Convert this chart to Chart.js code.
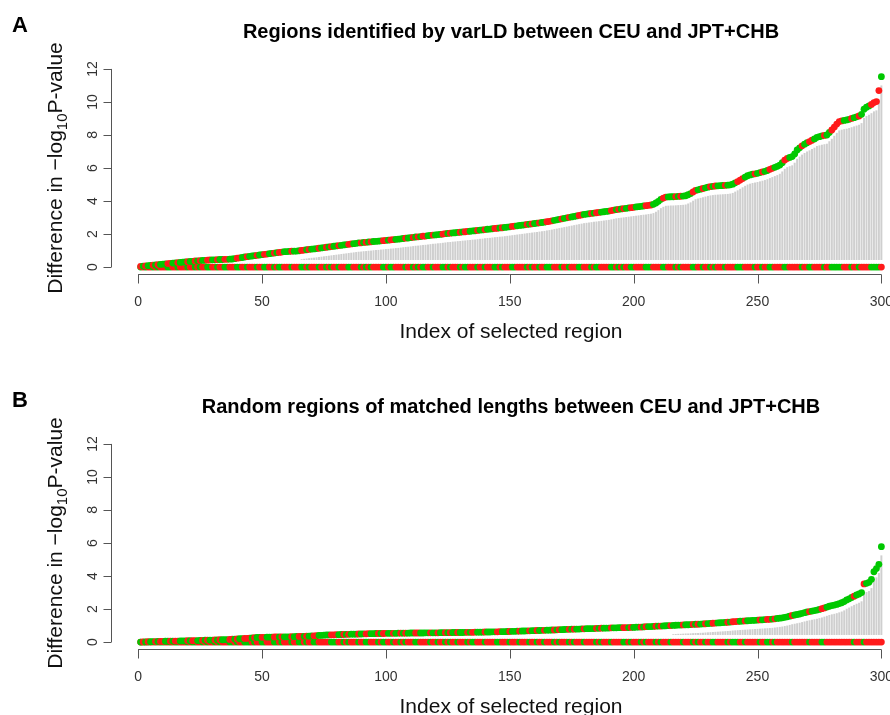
<!DOCTYPE html>
<html>
<head>
<meta charset="utf-8">
<script src="https://cdn.jsdelivr.net/npm/chart.js@4"></script>
<style>
html, body { margin: 0; padding: 0; background: #fff; overflow: hidden; width: 890px; height: 715px; }
canvas { position: absolute; left: 0; }
#chartA { top: 0; }
#chartB { top: 360px; }
</style>
</head>
<body>
<canvas id="chartA" width="930" height="360"></canvas>
<canvas id="chartB" width="930" height="355"></canvas>
<script>
// Panel A: varLD regions, sorted difference in -log10 P (one value per region, index 1..300)
const valuesA = [
  0.04,0.06,0.07,0.08,0.10,0.11,0.13,0.14,0.16,0.18,
  0.19,0.21,0.22,0.24,0.25,0.27,0.28,0.30,0.31,0.33,
  0.34,0.35,0.37,0.38,0.39,0.40,0.41,0.42,0.43,0.44,
  0.44,0.45,0.46,0.46,0.47,0.47,0.48,0.49,0.51,0.54,
  0.56,0.58,0.61,0.63,0.65,0.67,0.69,0.71,0.73,0.75,
  0.77,0.79,0.81,0.83,0.85,0.87,0.89,0.91,0.93,0.94,
  0.95,0.96,0.96,0.97,0.99,1.01,1.03,1.05,1.07,1.09,
  1.10,1.12,1.14,1.16,1.18,1.20,1.22,1.24,1.26,1.28,
  1.30,1.32,1.34,1.36,1.38,1.40,1.42,1.44,1.46,1.47,
  1.49,1.50,1.52,1.53,1.55,1.56,1.57,1.59,1.60,1.62,
  1.63,1.65,1.66,1.68,1.69,1.71,1.73,1.75,1.76,1.78,
  1.80,1.82,1.83,1.85,1.87,1.88,1.90,1.92,1.94,1.95,
  1.97,1.98,2.00,2.02,2.04,2.05,2.07,2.08,2.10,2.11,
  2.13,2.14,2.16,2.17,2.19,2.20,2.22,2.24,2.25,2.27,
  2.29,2.30,2.32,2.34,2.35,2.37,2.38,2.40,2.42,2.44,
  2.46,2.48,2.50,2.52,2.54,2.56,2.58,2.60,2.62,2.64,
  2.66,2.68,2.70,2.72,2.75,2.77,2.80,2.83,2.86,2.89,
  2.92,2.95,2.98,3.01,3.04,3.07,3.10,3.13,3.16,3.19,
  3.21,3.23,3.25,3.27,3.29,3.31,3.33,3.35,3.37,3.39,
  3.42,3.45,3.48,3.50,3.52,3.54,3.56,3.58,3.60,3.62,
  3.64,3.66,3.68,3.70,3.72,3.74,3.76,3.80,3.88,3.98,
  4.10,4.18,4.24,4.25,4.26,4.26,4.27,4.28,4.29,4.30,
  4.32,4.38,4.45,4.55,4.64,4.68,4.72,4.76,4.80,4.84,
  4.87,4.89,4.91,4.92,4.93,4.94,4.95,4.96,4.98,5.02,
  5.10,5.18,5.27,5.36,5.45,5.53,5.58,5.62,5.65,5.68,
  5.72,5.76,5.80,5.85,5.92,5.98,6.04,6.10,6.18,6.32,
  6.48,6.58,6.64,6.69,6.85,7.09,7.22,7.34,7.44,7.53,
  7.60,7.68,7.76,7.86,7.90,7.94,7.97,8.00,8.15,8.30,
  8.48,8.66,8.81,8.85,8.88,8.91,8.95,9.00,9.05,9.10,
  9.15,9.25,9.56,9.68,9.76,9.85,9.96,10.02,10.69,11.53
];

// Panel B: random regions of matched lengths
const valuesB = [
  0.00,0.01,0.01,0.02,0.02,0.03,0.03,0.04,0.04,0.04,
  0.05,0.05,0.05,0.06,0.06,0.06,0.07,0.07,0.07,0.08,
  0.08,0.08,0.09,0.09,0.10,0.10,0.11,0.11,0.12,0.12,
  0.13,0.13,0.14,0.14,0.15,0.15,0.16,0.17,0.18,0.19,
  0.20,0.21,0.22,0.23,0.24,0.25,0.27,0.28,0.28,0.29,
  0.29,0.30,0.30,0.30,0.31,0.31,0.31,0.32,0.32,0.32,
  0.32,0.33,0.33,0.34,0.34,0.35,0.35,0.36,0.36,0.37,
  0.38,0.39,0.40,0.41,0.42,0.43,0.43,0.44,0.44,0.45,
  0.45,0.46,0.46,0.47,0.47,0.48,0.48,0.48,0.49,0.49,
  0.50,0.50,0.51,0.51,0.51,0.52,0.52,0.52,0.52,0.53,
  0.53,0.53,0.53,0.53,0.54,0.54,0.54,0.54,0.54,0.55,
  0.55,0.55,0.55,0.55,0.55,0.56,0.56,0.56,0.56,0.56,
  0.56,0.57,0.57,0.57,0.57,0.57,0.58,0.58,0.58,0.58,
  0.58,0.59,0.59,0.59,0.59,0.60,0.60,0.60,0.60,0.61,
  0.61,0.61,0.62,0.62,0.62,0.63,0.63,0.63,0.64,0.64,
  0.65,0.65,0.66,0.66,0.67,0.67,0.68,0.68,0.69,0.69,
  0.70,0.70,0.71,0.71,0.72,0.72,0.73,0.73,0.74,0.75,
  0.75,0.76,0.77,0.77,0.78,0.78,0.79,0.79,0.80,0.80,
  0.81,0.81,0.82,0.82,0.83,0.83,0.84,0.84,0.85,0.85,
  0.86,0.86,0.86,0.87,0.87,0.87,0.88,0.88,0.89,0.89,
  0.90,0.91,0.91,0.92,0.93,0.94,0.94,0.95,0.96,0.97,
  0.97,0.98,0.99,1.00,1.00,1.01,1.02,1.03,1.03,1.04,
  1.05,1.05,1.06,1.07,1.08,1.08,1.09,1.10,1.11,1.12,
  1.13,1.14,1.15,1.16,1.17,1.18,1.19,1.20,1.21,1.23,
  1.24,1.25,1.26,1.27,1.28,1.29,1.30,1.31,1.32,1.33,
  1.34,1.35,1.36,1.37,1.38,1.39,1.41,1.43,1.45,1.47,
  1.50,1.53,1.57,1.61,1.64,1.67,1.70,1.74,1.78,1.82,
  1.85,1.88,1.91,1.94,1.98,2.02,2.07,2.12,2.17,2.21,
  2.24,2.28,2.33,2.38,2.45,2.55,2.62,2.70,2.78,2.85,
  2.91,3.00,3.52,3.56,3.62,3.80,4.26,4.45,4.71,5.78
];

// which population is higher for each region: r = red on the curve, g = green
// (the point at zero gets the other colour)
const groupsA =
  'rgrggrgrgg' + 'grrggrgggr' + 'ggrgrggrrg' + 'grggrrgggr' + 'rggrgggrgg' +
  'rrggrgrrgg' + 'grgggrrgrg' + 'ggrggrgrgg' + 'rgggrrgggr' + 'grgrggggrr' +
  'grrggggrgg' + 'rgrgrrggrg' + 'ggrrgrgggr' + 'grrgggrggr' + 'gggrrgrggg' +
  'rrggggrgrg' + 'grggrrrggg' + 'rggrgggrrg' + 'ggrgrrgggg' + 'rrgrgrggrr' +
  'ggggrrrggg' + 'grrgggrgrg' + 'gggrrggrgg' + 'rgrgggrggg' + 'grrrggggrg' +
  'grggrrgggg' + 'rrgggggrgg' + 'rrggggrggr' + 'rrrrgggrgg' + 'rggggrrrrg';

const groupsB =
  'grgrggrgrr' + 'ggrgrrgggr' + 'grrggrgrgg' + 'rgrgggrrgr' + 'ggrrrgrggr' +
  'rgggrrgrgg' + 'grggrrgrgg' + 'rrgggggrrr' + 'ggrgrgggrg' + 'grrgggrgrr' +
  'ggrggrgrgg' + 'grrggggrgg' + 'rggrgrggrg' + 'ggrgrrgggr' + 'ggggrrgggr' +
  'gggrgggrgg' + 'rggrgggrgr' + 'gggrgrgggr' + 'ggggrgrggg' + 'rggggrrgrg' +
  'ggrgrgggrg' + 'rgggrggggr' + 'gggrgrggrg' + 'grrggggrgr' + 'rrggrggggg' +
  'rggrrgrggg' + 'gggrgggggg' + 'rggggrrggg' + 'ggggggggrg' + 'ggrggggggg';

const xTicks = [0, 50, 100, 150, 200, 250, 300];
const yTicks = [0, 2, 4, 6, 8, 10, 12];

const RED = '#ff1a1a';
const GREEN = '#00c800';
const GRAY = '#cfcfcf';

function pointColors(codes, flip) {
    return codes.split('').map(c => ((c === 'r') !== flip) ? RED : GREEN);
}

// R-style axes, titles and panel letters, drawn from the chart scales
const rAxes = {
    id: 'rAxes',
    afterDraw(chart, args, opts) {
        const ctx = chart.ctx;
        const xs = chart.scales.x, ys = chart.scales.y;
        const area = chart.chartArea;
        const font = '"Liberation Sans", Arial, sans-serif';
        ctx.save();
        ctx.strokeStyle = '#555';
        ctx.lineWidth = 1;

        // x axis
        const yb = Math.round(area.bottom) - 0.5;
        ctx.beginPath();
        ctx.moveTo(xs.getPixelForValue(xTicks[0]), yb);
        ctx.lineTo(xs.getPixelForValue(xTicks[xTicks.length - 1]), yb);
        xTicks.forEach(t => {
            const px = Math.round(xs.getPixelForValue(t)) + 0.5;
            ctx.moveTo(px, yb);
            ctx.lineTo(px, yb + 9);
        });
        // y axis
        const xl = Math.round(area.left) + 0.5;
        ctx.moveTo(xl, ys.getPixelForValue(yTicks[0]));
        ctx.lineTo(xl, ys.getPixelForValue(yTicks[yTicks.length - 1]));
        yTicks.forEach(t => {
            const py = Math.round(ys.getPixelForValue(t)) + 0.5;
            ctx.moveTo(xl, py);
            ctx.lineTo(xl - 8, py);
        });
        ctx.stroke();

        // tick labels
        ctx.fillStyle = '#333';
        ctx.font = '14px ' + font;
        ctx.textAlign = 'center';
        ctx.textBaseline = 'alphabetic';
        xTicks.forEach(t => ctx.fillText(String(t), xs.getPixelForValue(t), area.bottom + 31));
        yTicks.forEach(t => {
            ctx.save();
            ctx.translate(area.left - 14, ys.getPixelForValue(t));
            ctx.rotate(-Math.PI / 2);
            ctx.fillText(String(t), 0, 0);
            ctx.restore();
        });

        // axis titles
        ctx.fillStyle = '#111';
        ctx.font = '21px ' + font;
        ctx.fillText('Index of selected region', (area.left + area.right) / 2, area.bottom + 63);

        const parts = [
            { t: 'Difference in \u2212log', size: 21, dy: 0 },
            { t: '10', size: 15, dy: 5 },
            { t: 'P-value', size: 21, dy: 0 }
        ];
        let total = 0;
        parts.forEach(p => { ctx.font = p.size + 'px ' + font; p.w = ctx.measureText(p.t).width; total += p.w; });
        ctx.save();
        ctx.translate(62, (area.top + area.bottom) / 2);
        ctx.rotate(-Math.PI / 2);
        ctx.textAlign = 'left';
        let cx = -total / 2;
        parts.forEach(p => {
            ctx.font = p.size + 'px ' + font;
            ctx.fillText(p.t, cx, p.dy);
            cx += p.w;
        });
        ctx.restore();

        // main title and panel letter
        ctx.fillStyle = '#000';
        ctx.textAlign = 'center';
        ctx.font = 'bold 20px ' + font;
        ctx.fillText(opts.title, (area.left + area.right) / 2, area.top - 23);
        ctx.textAlign = 'left';
        ctx.font = 'bold 22px ' + font;
        ctx.fillText(opts.letter, 12, area.top - 29);
        ctx.restore();
    }
};

function makePanel(canvasId, values, groups, title, letter, padding) {
    const stems = [], curve = [], zeros = [];
    values.forEach((v, i) => {
        const idx = i + 1;
        if (v - 0.55 > 0.45) stems.push({ x: idx, y: [0.45, v - 0.55] });
        curve.push({ x: idx, y: v });
        zeros.push({ x: idx, y: 0 });
    });

    return new Chart(document.getElementById(canvasId), {
        type: 'scatter',
        data: {
            datasets: [
                {
                    type: 'bar',
                    data: stems,
                    backgroundColor: GRAY,
                    barThickness: 1.3,
                    grouped: false,
                    order: 3
                },
                {
                    data: zeros,
                    pointStyle: 'circle',
                    pointRadius: 3.4,
                    borderWidth: 0,
                    pointBackgroundColor: pointColors(groups, true),
                    order: 2
                },
                {
                    data: curve,
                    pointStyle: 'circle',
                    pointRadius: 3.4,
                    borderWidth: 0,
                    pointBackgroundColor: pointColors(groups, false),
                    order: 1
                }
            ]
        },
        options: {
            responsive: false,
            animation: false,
            layout: { padding: padding },
            plugins: {
                legend: { display: false },
                tooltip: { enabled: false },
                rAxes: { title: title, letter: letter }
            },
            scales: {
                x: { type: 'linear', min: -10.96, max: 311.96, offset: false, display: false },
                y: { type: 'linear', min: -0.48, max: 12.48, display: false }
            }
        },
        plugins: [rAxes]
    });
}

makePanel('chartA', valuesA, groupsA,
    'Regions identified by varLD between CEU and JPT+CHB', 'A',
    { left: 111, top: 61, right: 19, bottom: 85 });
makePanel('chartB', valuesB, groupsB,
    'Random regions of matched lengths between CEU and JPT+CHB', 'B',
    { left: 111, top: 76, right: 19, bottom: 65 });
</script>
</body>
</html>
